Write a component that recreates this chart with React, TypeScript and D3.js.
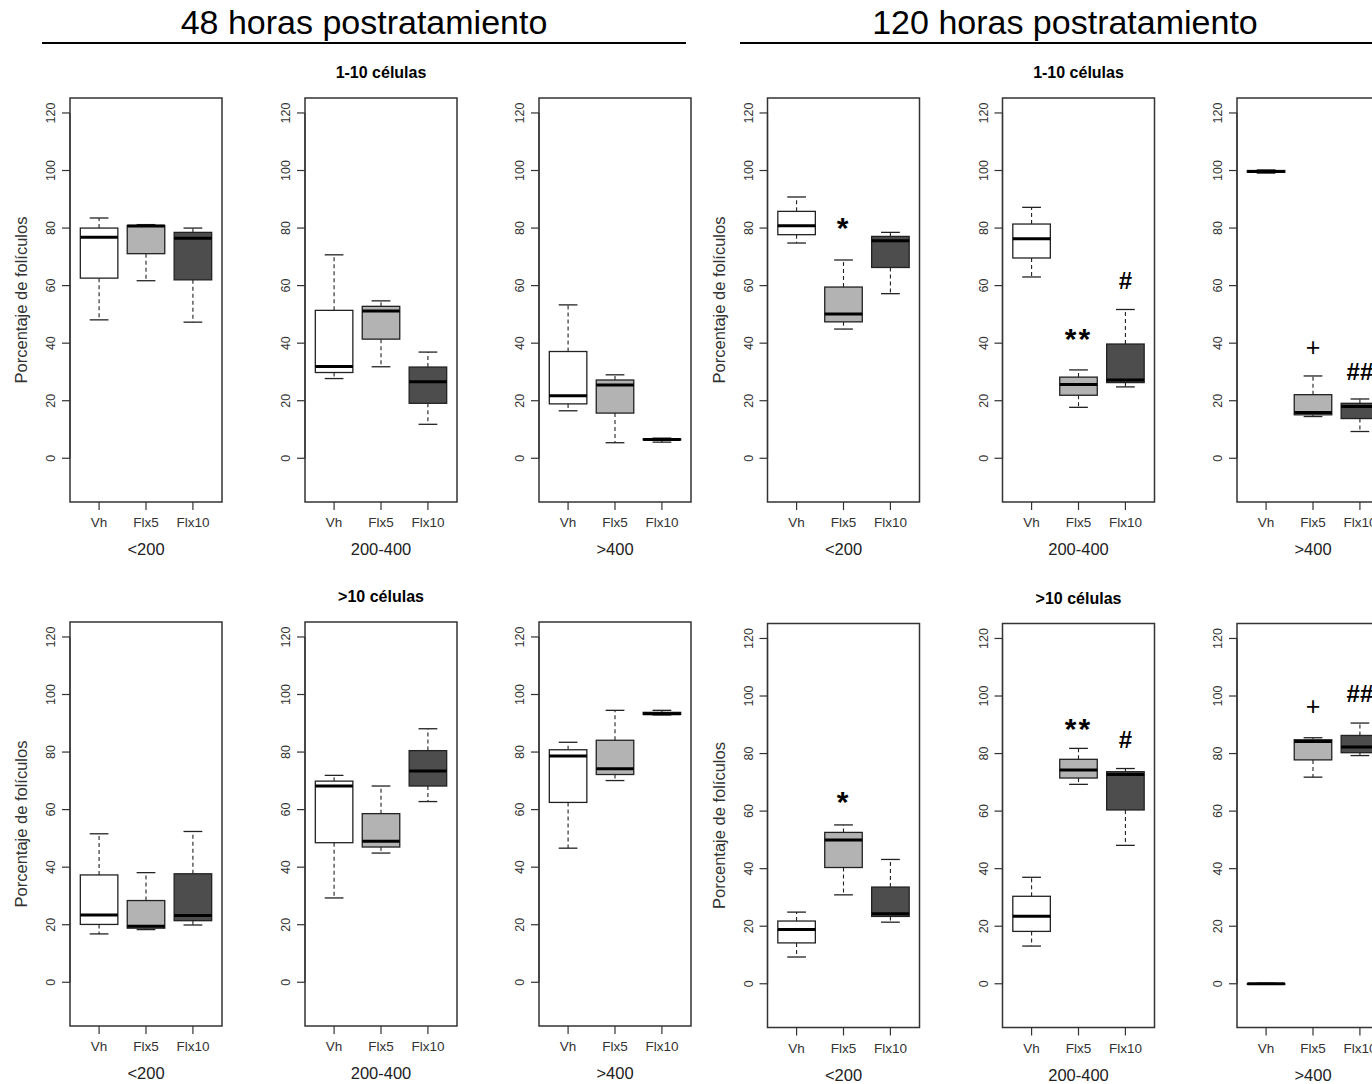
import React from "react";
import * as d3 from "d3";

// ---------- data ----------
const groups = ["Vh", "Flx5", "Flx10"];
const sizeClasses = ["<200", "200-400", ">400"];
const timeTitles = ["48 horas postratamiento", "120 horas postratamiento"];
const cellTitles = ["1-10 células", ">10 células"];
const yTicks = [0, 20, 40, 60, 80, 100, 120];
const yLabel = "Porcentaje de folículos";

// each box: [lower whisker, Q1, median, Q3, upper whisker]
const h48_1to10 = [
  [[48.1, 62.6, 76.8, 80.0, 83.5], [61.7, 71.1, 80.7, 80.9, 81.2], [47.3, 62.0, 76.5, 78.5, 80.0]],
  [[27.7, 29.8, 31.9, 51.4, 70.7], [31.8, 41.4, 51.2, 52.8, 54.7], [11.8, 19.1, 26.6, 31.7, 36.9]],
  [[16.5, 18.9, 21.7, 37.1, 53.3], [5.4, 15.7, 25.5, 27.2, 29.0], [5.6, 6.4, 6.5, 6.7, 7.0]],
];
const h48_gt10 = [
  [[16.8, 20.1, 23.4, 37.3, 51.6], [18.3, 18.8, 19.5, 28.4, 38.1], [19.9, 21.4, 23.2, 37.7, 52.4]],
  [[29.3, 48.5, 68.2, 69.9, 71.9], [44.9, 47.0, 49.0, 58.6, 68.2], [62.8, 68.2, 73.4, 80.5, 88.1]],
  [[46.6, 62.5, 78.6, 80.8, 83.4], [70.1, 72.2, 74.2, 84.1, 94.5], [92.9, 93.1, 93.3, 93.8, 94.5]],
];
const h120_1to10 = [
  [[74.8, 77.7, 80.8, 85.8, 90.8], [44.9, 47.4, 50.1, 59.5, 68.9], [57.2, 66.3, 75.6, 77.1, 78.5]],
  [[63.0, 69.6, 76.3, 81.4, 87.2], [17.7, 21.9, 25.6, 28.2, 30.7], [24.8, 26.3, 27.2, 39.7, 51.7]],
  [[99.1, 99.4, 99.7, 100.0, 100.2], [14.5, 15.1, 15.9, 22.1, 28.6], [9.3, 13.8, 18.0, 19.1, 20.6]],
];
const h120_gt10 = [
  [[9.3, 14.2, 18.9, 21.8, 24.9], [30.9, 40.4, 50.0, 52.6, 55.2], [21.4, 23.4, 24.3, 33.6, 43.2]],
  [[13.1, 18.2, 23.5, 30.4, 37.0], [69.3, 71.5, 74.3, 78.0, 81.8], [48.1, 60.4, 72.7, 73.7, 74.8]],
  [[0.0, 0.0, 0.0, 0.0, 0.2], [71.8, 77.8, 84.2, 84.8, 85.5], [79.3, 80.3, 82.3, 86.3, 90.6]],
];
const allStats = [
  [h48_1to10, h48_gt10],
  [h120_1to10, h120_gt10],
];

// significance marks: [time, cellRow, panel, group, label, value at glyph centre]
const marks: [number, number, number, number, string, number][] = [
  [1, 0, 0, 1, "*", 82.5],
  [1, 0, 1, 1, "**", 44.0],
  [1, 0, 1, 2, "#", 61.8],
  [1, 0, 2, 1, "+", 38.6],
  [1, 0, 2, 2, "##", 30.1],
  [1, 1, 0, 1, "*", 65.6],
  [1, 1, 1, 1, "**", 91.0],
  [1, 1, 1, 2, "#", 85.0],
  [1, 1, 2, 1, "+", 96.4],
  [1, 1, 2, 2, "##", 100.8],
];

// ---------- layout ----------
const W = 1372;
const H = 1084;
const panelW = 152;
const panelH = 404;
const halfLefts = [
  [70, 305, 539],
  [767.5, 1002.5, 1237],
];
const rowTops = [98, 622];
const rightBottomShift = 1.5;
const fills = ["#ffffff", "#b3b3b3", "#4d4d4d"];
const FONT = "'Liberation Sans', Arial, Helvetica, sans-serif";
const ink = "#222";

function Panel({ left, top, stats, sizeLabel, showYLabel, markList }: any) {
  const y = d3.scaleLinear().domain([-15.2, 125.2]).range([top + panelH, top]);
  const x = d3.scaleLinear().domain([0.38, 3.62]).range([left, left + panelW]);
  const unit = x(2) - x(1);
  const bw = unit * 0.8;
  const sw = bw * 0.5;
  const bottom = top + panelH;
  return (
    <g>
      {stats.map((s: number[], i: number) => {
        const cx = x(i + 1);
        const [lo, q1, med, q3, hi] = s;
        return (
          <g key={i}>
            <line x1={cx} x2={cx} y1={y(q3)} y2={y(hi)} stroke={ink} strokeWidth={1.1} strokeDasharray="4,3" />
            <line x1={cx} x2={cx} y1={y(q1)} y2={y(lo)} stroke={ink} strokeWidth={1.1} strokeDasharray="4,3" />
            <line x1={cx - sw / 2} x2={cx + sw / 2} y1={y(hi)} y2={y(hi)} stroke={ink} strokeWidth={1.3} />
            <line x1={cx - sw / 2} x2={cx + sw / 2} y1={y(lo)} y2={y(lo)} stroke={ink} strokeWidth={1.3} />
            <rect x={cx - bw / 2} width={bw} y={y(q3)} height={Math.max(0.5, y(q1) - y(q3))} fill={fills[i]} stroke={ink} strokeWidth={1.3} />
            <line x1={cx - bw / 2} x2={cx + bw / 2} y1={y(med)} y2={y(med)} stroke="#000" strokeWidth={3} />
          </g>
        );
      })}
      {markList.map((m: any, k: number) => {
        const lbl = m[4];
        const isStar = lbl.indexOf("*") >= 0;
        const isPlus = lbl === "+";
        const fs = isStar ? 30 : isPlus ? 25 : 24;
        const off = isStar ? 0.58 : 0.36;
        return (
          <text key={k} x={x(m[3] + 1)} y={y(m[5]) + off * fs} textAnchor="middle" fontFamily={FONT}
            fontSize={fs} fontWeight={isPlus ? "normal" : "bold"} fill="#000" letterSpacing={isStar ? 2 : 0}>
            {lbl}
          </text>
        );
      })}
      <rect x={left} y={top} width={panelW} height={panelH} fill="none" stroke="#333" strokeWidth={1.5} />
      {yTicks.map((t) => (
        <g key={t}>
          <line x1={left - 8} x2={left} y1={y(t)} y2={y(t)} stroke="#333" strokeWidth={1.2} />
          <text transform={`translate(${left - 15},${y(t)}) rotate(-90)`} textAnchor="middle" fontFamily={FONT}
            fontSize={12.5} fill="#333">{t}</text>
        </g>
      ))}
      <line x1={left} x2={left} y1={y(0)} y2={y(120)} stroke="#333" strokeWidth={1.2} />
      {groups.map((g, i) => (
        <g key={g}>
          <line x1={x(i + 1)} x2={x(i + 1)} y1={bottom} y2={bottom + 8} stroke="#333" strokeWidth={1.2} />
          <text x={x(i + 1)} y={bottom + 25} textAnchor="middle" fontFamily={FONT} fontSize={13.5} fill="#333">{g}</text>
        </g>
      ))}
      <text x={left + panelW / 2} y={bottom + 53} textAnchor="middle" fontFamily={FONT} fontSize={16.5} fill="#222">{sizeLabel}</text>
      {showYLabel && (
        <text transform={`translate(${left - 43},${top + panelH / 2}) rotate(-90)`} textAnchor="middle"
          fontFamily={FONT} fontSize={16.5} fill="#333">{yLabel}</text>
      )}
    </g>
  );
}

export default function App() {
  const lineSpans = [
    [42, 686],
    [740, 1390],
  ];
  const titleCx = [364, 1065];
  return (
    <svg width={W} height={H} style={{ position: "absolute", left: 0, top: 0, background: "#fff" }}>
      <rect x={0} y={0} width={W} height={H} fill="#fff" />
      {timeTitles.map((t, ti) => (
        <g key={t}>
          <text x={titleCx[ti]} y={33.5} textAnchor="middle" fontFamily={FONT} fontSize={34} fill="#000">{t}</text>
          <line x1={lineSpans[ti][0]} x2={lineSpans[ti][1]} y1={43} y2={43} stroke="#000" strokeWidth={2} />
          {cellTitles.map((c, ri) => {
            const shift = ti === 1 && ri === 1 ? rightBottomShift : 0;
            const top = rowTops[ri] + shift;
            const lefts = halfLefts[ti];
            return (
              <g key={c}>
                <text x={lefts[1] + panelW / 2} y={top - 20} textAnchor="middle" fontFamily={FONT} fontSize={16}
                  fontWeight="bold" fill="#000">{c}</text>
                {sizeClasses.map((sc, pi) => (
                  <Panel key={sc} left={lefts[pi]} top={top} stats={allStats[ti][ri][pi]} sizeLabel={sc}
                    showYLabel={pi === 0}
                    markList={marks.filter((m) => m[0] === ti && m[1] === ri && m[2] === pi)} />
                ))}
              </g>
            );
          })}
        </g>
      ))}
    </svg>
  );
}
